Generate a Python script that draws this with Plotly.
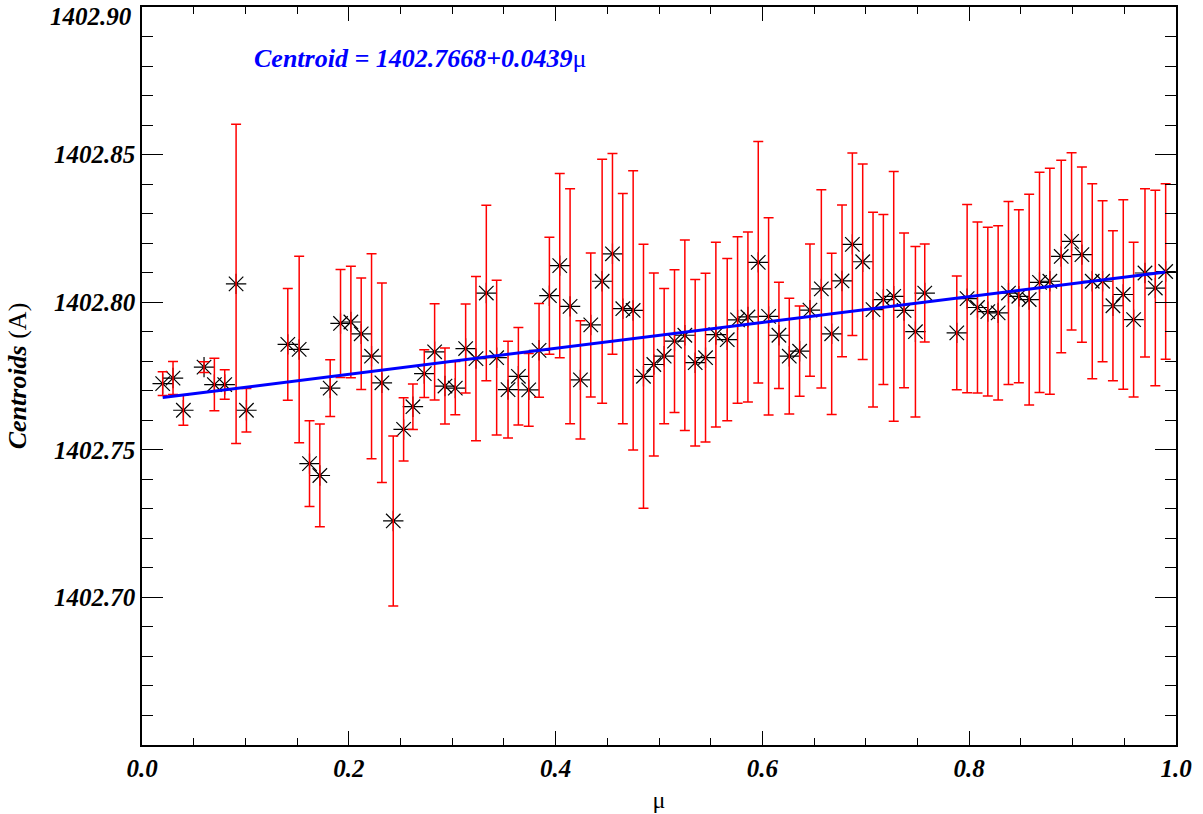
import plotly.graph_objects as go

mu = [0.020, 0.030, 0.040, 0.060, 0.070, 0.080, 0.091, 0.101, 0.141, 0.152,
      0.162, 0.172, 0.182, 0.192, 0.202, 0.212, 0.222, 0.232, 0.243, 0.253,
      0.262, 0.273, 0.283, 0.293, 0.303, 0.313, 0.323, 0.333, 0.343, 0.354,
      0.364, 0.374, 0.384, 0.394, 0.404, 0.414, 0.424, 0.434, 0.445, 0.455,
      0.465, 0.475, 0.485, 0.495, 0.505, 0.515, 0.525, 0.535, 0.545, 0.555,
      0.566, 0.576, 0.586, 0.596, 0.606, 0.616, 0.626, 0.636, 0.646, 0.657,
      0.667, 0.677, 0.687, 0.697, 0.707, 0.717, 0.727, 0.737, 0.748, 0.757,
      0.788, 0.798, 0.808, 0.818, 0.828, 0.838, 0.848, 0.858, 0.868, 0.878,
      0.889, 0.899, 0.909, 0.919, 0.929, 0.939, 0.949, 0.959, 0.970, 0.980,
      0.990]

centroids = [1402.7724, 1402.7743, 1402.7634, 1402.7780, 1402.7721, 1402.7721, 1402.8062, 1402.7634, 1402.7857, 1402.7840,
             1402.7453, 1402.7413, 1402.7709, 1402.7928, 1402.7933, 1402.7893, 1402.7817, 1402.7727, 1402.7259, 1402.7569,
             1402.7646, 1402.7758, 1402.7832, 1402.7716, 1402.7709, 1402.7843, 1402.7809, 1402.8031, 1402.7812, 1402.7704,
             1402.7749, 1402.7703, 1402.7837, 1402.8022, 1402.8124, 1402.7986, 1402.7737, 1402.7923, 1402.8071, 1402.8164,
             1402.7978, 1402.7972, 1402.7749, 1402.7789, 1402.7817, 1402.7868, 1402.7888, 1402.7795, 1402.7812, 1402.7890,
             1402.7873, 1402.7940, 1402.7950, 1402.8135, 1402.7952, 1402.7888, 1402.7817, 1402.7834, 1402.7973, 1402.8045,
             1402.7893, 1402.8072, 1402.8196, 1402.8137, 1402.7975, 1402.8009, 1402.8020, 1402.7972, 1402.7900, 1402.8031,
             1402.7896, 1402.8012, 1402.7982, 1402.7968, 1402.7964, 1402.8031, 1402.8020, 1402.8009, 1402.8067, 1402.8071,
             1402.8155, 1402.8206, 1402.8161, 1402.8071, 1402.8071, 1402.7988, 1402.8026, 1402.7941, 1402.8099, 1402.8048,
             1402.8104]

errors = [0.0040, 0.0056, 0.0051, 0.0018, 0.0089, 0.0050, 0.0541, 0.0074, 0.0189, 0.0316,
          0.0145, 0.0174, 0.0096, 0.0183, 0.0189, 0.0189, 0.0347, 0.0338, 0.0288, 0.0107,
          0.0077, 0.0081, 0.0163, 0.0129, 0.0090, 0.0151, 0.0278, 0.0297, 0.0262, 0.0164,
          0.0165, 0.0123, 0.0159, 0.0198, 0.0312, 0.0398, 0.0200, 0.0244, 0.0413, 0.0340,
          0.0390, 0.0473, 0.0447, 0.0310, 0.0229, 0.0242, 0.0323, 0.0282, 0.0286, 0.0313,
          0.0275, 0.0282, 0.0288, 0.0409, 0.0334, 0.0180, 0.0196, 0.0153, 0.0224, 0.0336,
          0.0273, 0.0257, 0.0309, 0.0331, 0.0330, 0.0288, 0.0423, 0.0262, 0.0289, 0.0166,
          0.0193, 0.0319, 0.0290, 0.0286, 0.0295, 0.0310, 0.0293, 0.0357, 0.0373, 0.0383,
          0.0326, 0.0300, 0.0297, 0.0330, 0.0273, 0.0254, 0.0321, 0.0262, 0.0285, 0.0331,
          0.0297]

fit_intercept = 1402.7668
fit_slope = 0.0439

y_ticks = [1402.70, 1402.75, 1402.80, 1402.85, 1402.90]
x_ticks = [0.0, 0.2, 0.4, 0.6, 0.8, 1.0]

FONT = "Liberation Serif"

fit_x = [mu[0], mu[-1]]
fit_y = [fit_intercept + fit_slope * v for v in fit_x]

fig = go.Figure()

# asterisk markers (drawn first)
fig.add_trace(go.Scatter(
    x=mu, y=centroids, mode="markers",
    marker=dict(symbol="asterisk-open", size=17, color="black",
                line=dict(color="black", width=1.2)),
    showlegend=False, hoverinfo="skip"))

# red error bars drawn over markers
fig.add_trace(go.Scatter(
    x=mu, y=centroids, mode="markers",
    marker=dict(size=1, opacity=0),
    error_y=dict(type="data", array=errors, visible=True,
                 color="#ff0000", thickness=1.5, width=5),
    showlegend=False, hoverinfo="skip"))

# linear fit
fig.add_trace(go.Scatter(
    x=fit_x, y=fit_y, mode="lines",
    line=dict(color="#0000ff", width=3),
    showlegend=False, hoverinfo="skip"))

fig.add_annotation(
    x=0.106, y=1402.8827, xref="x", yref="y", xanchor="left", yanchor="middle",
    text="<b><i>Centroid = %.4f+%.4f</i></b>μ" % (fit_intercept, fit_slope),
    showarrow=False,
    font=dict(family=FONT, size=26, color="#0000ff"))

tickfont = dict(family=FONT, size=25, color="black", weight="bold", style="italic")

# top y label shifted down so it stays inside the page (as in the original)
fig.add_annotation(
    x=0, xref="paper", y=y_ticks[-1], yref="y", xanchor="right", yanchor="top",
    xshift=-8, yshift=6, text="%.2f" % y_ticks[-1], showarrow=False, font=tickfont)

fig.update_layout(
    width=1203, height=814,
    margin=dict(l=142, r=27, t=7, b=69),
    paper_bgcolor="white", plot_bgcolor="white",
    xaxis=dict(
        range=[0, 1], tickvals=x_ticks, ticktext=["%.1f" % v for v in x_ticks],
        ticks="inside", ticklen=14, tickwidth=1, tickcolor="black",
        minor=dict(dtick=0.05, tick0=0, ticks="inside", ticklen=7, tickcolor="black", showgrid=False),
        showline=True, linecolor="black", linewidth=1.5, mirror="ticks",
        showgrid=False, zeroline=False, tickfont=tickfont, automargin=False,
        title=dict(text="μ", font=dict(family=FONT, size=24, color="black"), standoff=10)),
    yaxis=dict(
        range=[1402.65, 1402.90], tickvals=y_ticks[:-1], ticktext=["%.2f" % v for v in y_ticks[:-1]],
        ticks="inside", ticklen=21, tickwidth=1, tickcolor="black", ticklabelstandoff=0,
        minor=dict(dtick=0.01, tick0=1402.65, ticks="inside", ticklen=11, tickcolor="black", showgrid=False),
        showline=True, linecolor="black", linewidth=1.5, mirror="ticks",
        showgrid=False, zeroline=False, tickfont=tickfont, automargin=False,
        title=dict(text="<b><i>Centroids</i></b> (A)", font=dict(family=FONT, size=26, color="black"), standoff=20)),
)

fig.write_html("out.html", post_script="document.body.style.margin='0';",
               config={"displayModeBar": False})
